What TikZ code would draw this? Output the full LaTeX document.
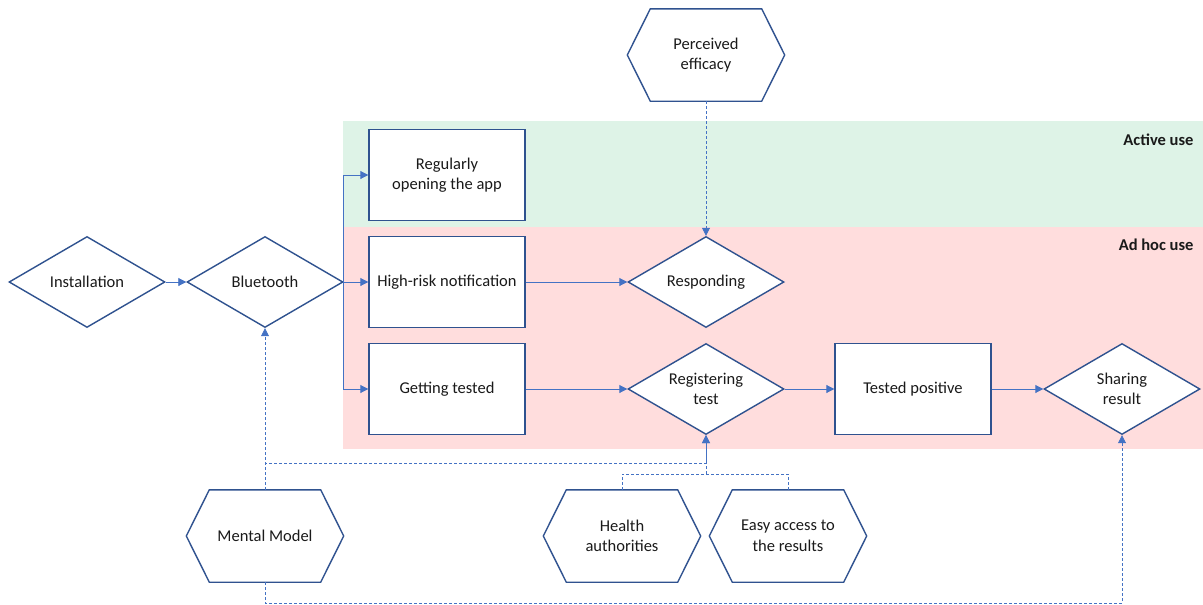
\documentclass[tikz,border=0pt]{standalone}
\usepackage{fontspec}
\setmainfont{Carlito}
\usetikzlibrary{shapes.geometric,arrows.meta}
\definecolor{edgeblue}{RGB}{47,82,143}
\definecolor{linkblue}{RGB}{68,114,196}
\definecolor{activebg}{RGB}{222,243,231}
\definecolor{adhocbg}{RGB}{255,221,221}
\definecolor{ink}{RGB}{26,26,26}
\tikzset{
  base/.style={draw=edgeblue,line width=1.4pt,fill=white,text=ink,align=center,
    minimum width=156pt,minimum height=91pt,inner sep=2pt,
    font=\fontsize{16.5}{20.5}\selectfont},
  act/.style={base,rectangle},
  choice/.style={base,diamond,aspect=1.7},
  factor/.style={base,rectangle,draw=none,fill=none},
  flow/.style={draw=linkblue,line width=0.9pt,-{Triangle[length=8pt,width=8pt]}},
  cue/.style={draw=linkblue,line width=0.8pt,dash pattern=on 3pt off 2pt},
  band/.style={text=ink,anchor=east,font=\fontsize{16.5}{20}\selectfont\bfseries}
}
\begin{document}
\begin{tikzpicture}[x=1pt,y=-1pt]
  \useasboundingbox (0,0) rectangle (1203,605);
  % usage bands
  \fill[activebg] (343,121) rectangle (1203,227);
  \fill[adhocbg]  (343,227) rectangle (1203,449);
  \node[band] (active) at (1197,140) {Active use};
  \node[band] (adhoc)  at (1197,245) {Ad hoc use};
  % steps
  \node[choice] (inst)    at (87,282)   {Installation};
  \node[choice] (blue)    at (265,282)  {Bluetooth};
  \node[act]    (regular) at (447,175)  {Regularly\\opening the app};
  \node[act]    (high)    at (447,282)  {High-risk notification};
  \node[act]    (gett)    at (447,389)  {Getting tested};
  \node[choice] (respond) at (706,282)  {Responding};
  \node[choice] (regist)  at (706,389)  {Registering\\test};
  \node[act]    (tested)  at (913,389)  {Tested positive};
  \node[choice] (sharing) at (1122,389) {Sharing\\result};
  % factors
  \node[factor] (perc)    at (706,55)   {Perceived\\efficacy};
  \node[factor] (mental)  at (265,536)  {Mental Model};
  \node[factor] (health)  at (622,536)  {Health\\authorities};
  \node[factor] (easy)    at (788,536)  {Easy access to\\the results};
  \foreach \h in {perc,mental,health,easy}
    \draw[draw=edgeblue,line width=1.4pt] (\h.west) -- ([xshift=23pt]\h.north west)
      -- ([xshift=-23pt]\h.north east) -- (\h.east) -- ([xshift=-23pt]\h.south east)
      -- ([xshift=23pt]\h.south west) -- cycle;
  % main flow
  \draw[flow] (inst) -- (blue);
  \draw[flow] (blue.east) |- (regular.west);
  \draw[flow] (blue.east) -- (high.west);
  \draw[flow] (blue.east) |- (gett.west);
  \draw[flow] (high) -- (respond);
  \draw[flow] (gett) -- (regist);
  \draw[flow] (regist) -- (tested);
  \draw[flow] (tested) -- (sharing);
  % influences
  \coordinate (hjoin) at (regist.south |- 0,474);
  \draw[cue,-{Triangle[length=8pt,width=8pt]}] (perc.south) -- (respond.north);
  \draw[cue,-{Triangle[length=8pt,width=8pt]}] (mental.north) -- (blue.south);
  \draw[cue,-{Triangle[length=8pt,width=8pt]}] (mental.north) -- ++(0,-26) -| (regist.south);
  \draw[cue] (health.north) |- (hjoin) -| (easy.north);
  \draw[cue,-{Triangle[length=8pt,width=8pt]}] (hjoin) -- (regist.south);
  \draw[cue,-{Triangle[length=8pt,width=8pt]}] (mental.south) -- ++(0,21) -| (sharing.south);
\end{tikzpicture}
\end{document}
